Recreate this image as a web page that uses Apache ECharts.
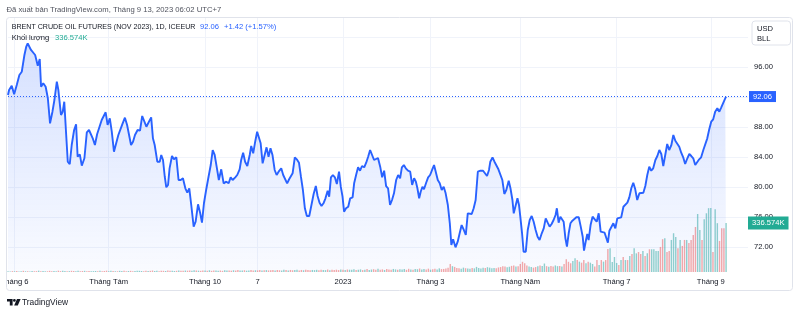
<!DOCTYPE html>
<html><head><meta charset="utf-8">
<script src="https://cdn.jsdelivr.net/npm/echarts/dist/echarts.min.js"></script>
<style>html,body{margin:0;padding:0;background:#fff}#c{width:800px;height:314px}</style>
</head><body><div id="c"></div>
<script>
// ---- data ----
const tickDays = [3, 46, 90, 114, 153, 193, 234, 278, 321];
const tickLabels = ['Tháng 6', 'Tháng Tám', 'Tháng 10', '7', '2023', 'Tháng 3', 'Tháng Năm', 'Tháng 7', 'Tháng 9'];
const priceTicks = [72, 76, 80, 84, 88, 96];
const lastPrice = 92.06;
const lastVolume = 336.574;
const dayCount = 339; // trading-day slots incl. right margin

// trading-day position of each read vertex
const priceDays = [0,0.5,1.7,2.8,4.0,5.2,6.3,7.5,8.3,9.0,10.5,11.3,12.4,13.6,14.5,15.1,16.1,17.2,18.2,19.2,20.3,21.2,22.3,23.0,24.2,25.0,25.7,26.5,27.3,28.2,29.1,30.2,31.1,31.8,32.8,33.7,34.9,36.0,37.0,37.9,38.7,39.7,40.7,41.6,42.8,43.7,44.6,45.5,46.5,47.4,48.4,49.3,50.4,51.3,52.2,53.4,54.4,55.3,56.2,57.1,58.0,59.2,60.3,61.3,62.2,63.2,64.1,65.4,66.2,67.0,68.2,69.3,70.0,70.8,71.6,72.3,73.1,73.8,74.9,75.8,76.9,77.9,78.9,79.9,81.0,81.9,82.8,83.7,84.8,85.7,86.8,87.8,88.6,89.5,90.5,91.6,92.6,93.5,94.4,95.3,96.3,97.4,98.5,99.7,100.8,101.7,102.6,103.8,104.7,105.8,106.5,107.4,108.3,109.3,110.4,111.1,112.0,112.9,113.8,114.6,115.4,116.3,117.2,118.1,119.0,119.9,120.8,121.8,122.7,123.6,124.8,125.7,126.6,127.5,128.4,130.0,131.0,131.9,132.9,133.8,134.7,135.6,136.5,137.6,138.6,139.6,140.6,141.4,142.3,143.2,144.1,145.0,146.0,146.7,147.5,148.4,149.3,150.2,151.2,152.0,152.8,153.5,154.4,155.4,156.3,157.4,158.1,159.0,159.9,160.8,161.7,162.7,163.6,164.5,165.4,166.3,167.2,168.1,169.0,170.0,170.9,171.8,172.7,173.6,174.5,175.4,176.3,177.3,178.2,179.1,179.9,180.8,181.7,182.7,183.7,184.6,185.5,186.3,187.0,187.8,188.5,189.3,190.0,191.0,191.9,192.8,193.7,194.6,195.4,196.3,197.2,198.1,199.0,199.9,200.9,201.8,202.5,203.3,204.4,205.4,206.3,207.2,208.2,209.1,210.0,210.9,211.8,212.7,213.6,214.6,215.8,217.0,217.9,218.8,219.7,220.3,221.3,222.2,223.1,224.0,224.9,225.8,226.7,227.6,228.7,229.5,230.4,231.0,231.8,232.7,233.4,234.0,234.8,235.5,236.5,237.4,238.3,239.2,240.1,241.0,241.9,242.8,243.8,244.7,245.6,246.5,247.4,248.3,249.2,250.1,250.7,251.5,252.3,253.2,253.8,254.6,255.3,256.1,256.9,257.8,258.7,259.6,260.7,261.6,262.5,263.1,264.0,264.6,265.2,266.1,267.0,268.0,268.9,269.8,270.7,271.6,272.5,273.4,274.0,274.7,275.6,276.5,277.4,278.3,279.2,280.1,281.1,282.0,282.9,283.8,284.7,285.6,286.5,287.4,288.4,289.3,290.2,291.1,292.0,292.9,293.8,294.7,295.7,296.6,297.5,298.4,299.3,300.2,301.1,302.0,303.0,303.9,304.8,305.7,306.6,307.5,308.4,309.3,310.3,311.2,312.1,313.0,313.9,314.8,315.7,316.6,317.6,318.5,319.4,320.3,321.2,322.1,323.0,324.0,324.9,325.8,326.7,327.6,328];
const prices = [92.27,92.93,93.51,92.36,93.60,94.93,95.37,97.60,98.67,99.16,98.27,98.49,97.60,96.17,97.07,93.37,93.83,93.37,91.83,88.49,90.04,91.60,94.04,92.93,89.60,90.04,91.37,87.33,83.37,83.03,85.60,87.60,88.36,84.04,84.36,82.84,83.83,87.29,87.60,87.51,86.49,85.60,87.03,87.16,88.93,88.71,89.96,88.27,89.16,87.37,84.71,84.80,86.93,86.84,88.36,89.24,88.27,86.93,85.60,86.04,86.93,87.60,87.51,89.47,89.37,88.04,87.83,89.29,86.49,85.60,83.37,83.37,84.27,83.60,81.37,79.96,80.27,82.49,84.13,83.69,83.96,80.93,80.93,81.16,79.83,79.24,79.83,77.60,74.71,75.37,77.69,76.49,75.24,77.83,79.60,81.37,82.93,84.93,84.27,82.71,80.93,82.36,80.49,80.71,80.49,81.29,80.93,81.29,81.60,82.36,83.60,84.57,83.37,82.80,84.27,85.47,84.49,86.04,87.37,87.16,85.83,83.16,83.37,85.29,84.04,85.16,84.27,82.27,81.60,82.04,82.49,81.60,81.47,80.49,81.03,81.82,83.96,83.69,83.24,81.37,79.60,77.16,76.13,76.13,77.60,79.07,80.13,78.80,77.91,77.47,77.83,78.49,79.51,78.71,81.29,81.60,81.29,80.40,82.04,80.04,78.71,76.71,77.16,77.37,78.49,78.62,80.49,81.60,82.63,82.17,82.80,82.63,83.24,84.04,84.93,85.03,83.60,83.37,83.87,82.71,81.29,82.17,80.13,79.83,77.60,78.27,79.16,80.93,81.60,81.16,82.63,82.93,82.49,82.17,82.04,80.27,81.16,80.71,79.83,78.49,79.37,80.04,79.69,80.57,81.29,81.60,82.27,82.93,83.16,80.93,80.49,79.60,80.04,79.16,77.60,75.16,72.27,73.03,71.96,72.71,73.83,74.93,74.27,73.60,76.49,76.71,76.40,77.16,78.27,82.04,82.17,82.17,82.17,81.47,82.27,83.37,83.96,83.37,83.51,82.36,82.27,80.93,79.07,79.60,80.84,79.83,78.27,76.49,76.57,78.49,77.60,76.04,73.83,71.37,71.37,74.27,75.60,76.13,75.37,74.27,73.37,72.93,73.83,74.49,75.82,75.24,74.71,75.07,75.60,76.27,77.16,75.24,76.04,76.13,75.37,73.16,72.04,73.83,75.16,75.51,75.37,75.96,75.96,74.71,73.37,71.51,72.93,73.73,72.93,74.93,76.04,75.69,75.37,76.49,74.04,73.83,73.91,73.83,72.57,74.17,74.36,75.16,74.49,75.82,76.04,75.96,77.37,77.16,77.91,78.62,79.83,80.57,79.69,78.27,79.16,79.16,79.24,80.13,81.60,82.71,82.17,82.49,83.60,84.13,84.93,84.40,82.80,84.27,85.73,84.93,85.60,86.93,86.17,86.04,85.37,84.57,83.96,83.07,83.83,84.40,84.13,83.83,82.93,82.80,83.69,83.96,84.93,85.16,86.49,87.69,88.71,89.03,90.04,90.49,90.04,90.63,90.80,91.82,92.06];

// daily volume (thousand contracts), one per trading day
const volumes = [
5,4,6,5,7,4,6,8,5,6,4,7,5,6,9,5,7,6,5,8,
6,7,5,9,6,8,7,5,6,8,7,6,9,5,7,8,6,7,5,6,
7,6,8,5,7,9,6,8,7,6,5,8,7,9,6,7,8,6,7,9,
8,7,6,9,7,8,10,7,8,6,9,8,7,10,8,9,7,8,11,9,
8,10,9,11,8,12,10,9,8,11,10,9,12,8,10,11,9,10,8,12,
10,11,9,12,10,13,11,10,12,9,11,13,10,12,11,14,10,12,13,11,
12,14,11,13,12,10,15,13,11,14,12,13,16,11,14,12,15,13,12,14,
13,15,12,16,14,13,17,12,15,14,16,13,18,15,14,17,16,15,19,14,
15,18,13,16,20,14,17,19,15,22,16,18,14,20,17,15,21,18,16,19,
17,20,15,22,18,16,21,19,24,17,20,18,23,16,19,22,18,25,20,21,
24,30,55,40,35,28,25,22,30,26,24,22,28,25,35,28,24,30,27,33,
30,26,28,25,31,34,40,38,33,36,42,45,38,40,55,70,60,45,38,35,
30,34,40,45,42,58,40,36,42,38,45,40,42,38,55,87,70,60,75,94,
82,71,64,82,60,71,64,55,37,82,48,82,71,82,158,163,69,103,62,48,
82,103,82,82,110,124,163,128,137,124,144,110,128,156,156,156,144,144,172,225,
232,137,144,220,266,240,163,220,179,220,220,199,220,254,309,398,289,220,362,403,
438,440,137,431,335,213,300,300,336.574];
// u = up day (teal), d = down day (red)
const volumeDir =
'uududuudud'+'uudduduudd'+'duudduudud'+'duuddudduu'+'ududdduudu'+'duuddudduu'+'uuddudduud'+'ddudduudud'+
'dudduududd'+'ududduuddu'+'uddudduudu'+'udduddudud'+'ddudduudud'+'duuddudddu'+'uudduududd'+'ddududuuud'+
'uududuuddu'+'dduddduudu'+'uudduduudu'+'uddudduudd'+'ddduddduud'+'uuduuuuudu'+'uuuddddduu'+'dduddddduu'+
'dduduududd'+'uududddduu'+'dudduduudd'+'ududduuuud'+'udududuudd'+'ududuuuudd'+'udduuududd'+'udddduuduu'+
'uuduudddu';

// ---- chart ----
const FONT = 'Liberation Sans, Arial, sans-serif';
const cats = Array.from({length: dayCount}, (_, i) => 'd' + i);
const labelMap = {};
tickDays.forEach((d, i) => { labelMap['d' + d] = tickLabels[i]; });
const isTick = (idx, val) => labelMap[val] !== undefined;

const UP = 'rgba(38,166,154,0.5)', DOWN = 'rgba(239,83,80,0.5)';
const ytickAll = [];
for (let v = 68; v <= 104; v += 4) ytickAll.push(v);
const splitColors = ytickAll.map(v => (v === 68 || v === 104) ? 'rgba(0,0,0,0)' : '#f0f3fa');

const chart = echarts.init(document.getElementById('c'), null, {renderer: 'canvas'});
chart.setOption({
  animation: false,
  textStyle: {fontFamily: FONT},
  grid: [
    {left: 8, right: 52, top: 17, bottom: 42, containLabel: false, outerBoundsMode: 'none'},
    {left: 8, right: 52, top: 7, bottom: 37, containLabel: false, outerBoundsMode: 'none'}
  ],
  xAxis: [
    {type: 'category', gridIndex: 0, data: cats, boundaryGap: false,
     axisLine: {show: false}, axisTick: {show: false},
     axisLabel: {interval: isTick, formatter: v => labelMap[v] || '', color: '#131722',
                 fontSize: 7.6, fontFamily: FONT, margin: 6, hideOverlap: false},
     splitLine: {show: true, interval: isTick, lineStyle: {color: '#f0f3fa', width: 1}}},
    {type: 'value', gridIndex: 0, min: 0, max: dayCount - 1, show: false},
    {type: 'value', gridIndex: 1, min: 0, max: 1, show: false}
  ],
  yAxis: [
    {type: 'value', gridIndex: 0, min: 68.6667, max: 102.6667, show: false},
    {type: 'value', gridIndex: 0, min: 0, max: 1750, show: false},
    {type: 'value', gridIndex: 1, min: 68, max: 104, interval: 4, position: 'right',
     axisLine: {show: false}, axisTick: {show: false},
     axisLabel: {margin: 6, color: '#131722', fontSize: 7.6, fontFamily: FONT,
                 formatter: v => priceTicks.includes(v) ? v.toFixed(2) : ''},
     splitLine: {show: true, lineStyle: {color: splitColors, width: 1}}}
  ],
  series: [
    {type: 'bar', xAxisIndex: 0, yAxisIndex: 1, z: 1, barWidth: 1.4,
     data: volumes.map((v, i) => ({value: v, itemStyle: {color: volumeDir[i] === 'u' ? UP : DOWN}})),
     markLine: {silent: true, symbol: 'none', lineStyle: {color: 'rgba(0,0,0,0)', width: 0},
       label: {show: true, position: 'end', distance: 0, formatter: '336.574K', color: '#fff',
                backgroundColor: '#22ab94', padding: [3, 4, 2, 4], fontSize: 7.6, fontFamily: FONT},
       data: [{yAxis: lastVolume}]}},
    {type: 'line', xAxisIndex: 1, yAxisIndex: 0, z: 2, symbol: 'none',
     data: priceDays.map((d, i) => [d, prices[i]]),
     lineStyle: {color: '#2962ff', width: 1.9},
     areaStyle: {color: new echarts.graphic.LinearGradient(0, 0, 0, 1, [
        {offset: 0, color: 'rgba(41,98,255,0.28)'}, {offset: 1, color: 'rgba(41,98,255,0.04)'}])},
     markLine: {silent: true, symbol: 'none',
       lineStyle: {type: [1, 2], color: '#2962ff', width: 1},
       label: {position: 'end', distance: 1, formatter: '92.06', color: '#fff',
               backgroundColor: '#2962ff', padding: [2, 4, 1, 4], fontSize: 7.6, fontFamily: FONT},
       data: [{yAxis: lastPrice}]}}
  ],
  graphic: [
    {type: 'rect', z: 100, shape: {x: 0, y: 273, width: 6, height: 17}, style: {fill: '#fff'}},
    {type: 'rect', z: 100, shape: {x: 6.5, y: 17.5, width: 786, height: 273, r: 3},
     style: {fill: 'none', stroke: '#e0e3eb', lineWidth: 1}},
    {type: 'text', z: 100, x: 6.5, y: 10, style: {text: 'Đã xuất bản TradingView.com, Tháng 9 13, 2023 06:02 UTC+7',
      font: '7.7px ' + FONT, fill: '#50535e', verticalAlign: 'middle'}},
    {type: 'text', z: 100, x: 11.7, y: 27, style: {text: 'BRENT CRUDE OIL FUTURES (NOV 2023), 1D, ICEEUR',
      font: '7.1px ' + FONT, fill: '#131722', verticalAlign: 'middle'}},
    {type: 'text', z: 100, x: 200, y: 27, style: {text: '92.06', font: '7.6px ' + FONT, fill: '#2962ff', verticalAlign: 'middle'}},
    {type: 'text', z: 100, x: 224, y: 27, style: {text: '+1.42 (+1.57%)', font: '7.6px ' + FONT, fill: '#2962ff', verticalAlign: 'middle'}},
    {type: 'text', z: 100, x: 11.7, y: 38, style: {text: 'Khối lượng', font: '7.6px ' + FONT, fill: '#131722', verticalAlign: 'middle'}},
    {type: 'text', z: 100, x: 55, y: 38, style: {text: '336.574K', font: '7.6px ' + FONT, fill: '#22ab94', verticalAlign: 'middle'}},
    {type: 'rect', z: 100, shape: {x: 752, y: 21, width: 38.5, height: 24, r: 3},
     style: {fill: '#fff', stroke: '#e0e3eb', lineWidth: 1}},
    {type: 'text', z: 101, x: 757, y: 29, style: {text: 'USD', font: '7.6px ' + FONT, fill: '#131722', verticalAlign: 'middle'}},
    {type: 'text', z: 101, x: 757, y: 39, style: {text: 'BLL', font: '7.6px ' + FONT, fill: '#131722', verticalAlign: 'middle'}},
    {type: 'polygon', z: 100, shape: {points: [[7,299],[12.6,299],[12.6,305.5],[9.8,305.5],[9.8,301.6],[7,301.6]]}, style: {fill: '#131722'}},
    {type: 'circle', z: 100, shape: {cx: 14.4, cy: 300.4, r: 1.4}, style: {fill: '#131722'}},
    {type: 'polygon', z: 100, shape: {points: [[17,299],[20.6,299],[17.8,305.5],[14.2,305.5]]}, style: {fill: '#131722'}},
    {type: 'text', z: 100, x: 22, y: 302.5, style: {text: 'TradingView', font: '8.4px ' + FONT, fill: '#131722', verticalAlign: 'middle'}}
  ]
});
</script></body></html>
